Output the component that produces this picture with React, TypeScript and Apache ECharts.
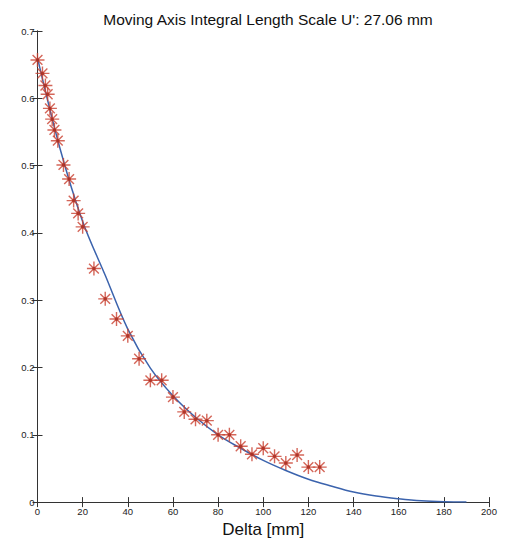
import React, { useEffect, useRef } from "react";
import * as echarts from "echarts";

const titleText = "Moving Axis Integral Length Scale U': 27.06 mm";
const xLabel = "Delta [mm]";

// Measured points (red asterisks)
const pointX = [0, 2.2, 3.5, 4.5, 5.5, 6.5, 7.5, 9, 11.5, 14, 16, 18, 20, 25, 30, 35, 40, 45, 50, 55, 60, 65, 70, 75, 80, 85, 90, 95, 100, 105, 110, 115, 120, 125];
const pointY = [0.657, 0.637, 0.619, 0.606, 0.585, 0.569, 0.553, 0.537, 0.501, 0.48, 0.448, 0.429, 0.409, 0.347, 0.302, 0.272, 0.247, 0.213, 0.181, 0.181, 0.156, 0.134, 0.123, 0.121, 0.1, 0.1, 0.083, 0.071, 0.08, 0.068, 0.058, 0.07, 0.052, 0.052];

// Fitted curve (blue line)
const curveX = [0, 10, 20, 30, 40, 50, 60, 70, 80, 90, 100, 110, 120, 130, 140, 150, 160, 170, 180, 190];
const curveY = [0.66, 0.525, 0.417, 0.337, 0.257, 0.199, 0.158, 0.126, 0.1, 0.08, 0.062, 0.047, 0.034, 0.024, 0.015, 0.009, 0.005, 0.002, 0.0005, 0];

const xTicks = { min: 0, max: 200, interval: 20 };
const yTicks = { min: 0, max: 0.7, interval: 0.1 };

const starPath = "path://M0 5 L10 5 M5 0 L5 10 M1.5 1.5 L8.5 8.5 M1.5 8.5 L8.5 1.5";
const font = "Liberation Sans, Arial, sans-serif";

export default function App() {
  const ref = useRef<HTMLDivElement>(null);
  useEffect(() => {
    if (!ref.current) return;
    const chart = echarts.init(ref.current, null, { renderer: "svg" });
    const axisLine = { show: true, lineStyle: { color: "#333", width: 1 } };
    const tick = { show: true, inside: true, length: 5, lineStyle: { color: "#333" } };
    const label = { color: "#222", fontSize: 9.5, fontFamily: font };
    chart.setOption({
      animation: false,
      backgroundColor: "#fff",
      title: {
        text: titleText,
        left: 263,
        textAlign: "center",
        top: 6,
        textStyle: { fontSize: 15.5, fontWeight: "normal", color: "#111", fontFamily: font },
      },
      grid: { left: 37.5, right: 24, top: 31, bottom: 38 },
      xAxis: [
        {
          type: "value",
          ...xTicks,
          name: xLabel,
          nameLocation: "middle",
          nameGap: 16,
          nameTextStyle: { fontSize: 17, color: "#111", fontFamily: font },
          axisLine,
          axisTick: tick,
          axisLabel: { ...label, margin: 4 },
          splitLine: { show: false },
        },
        {
          type: "value",
          ...xTicks,
          position: "top",
          axisLine,
          axisTick: tick,
          axisLabel: { show: false },
          splitLine: { show: false },
        },
      ],
      yAxis: [
        {
          type: "value",
          ...yTicks,
          axisLine,
          axisTick: tick,
          axisLabel: { ...label, margin: 3, formatter: (v: number) => String(Math.round(v * 10) / 10) },
          splitLine: { show: false },
        },
        {
          type: "value",
          ...yTicks,
          position: "right",
          axisLine,
          axisTick: tick,
          axisLabel: { show: false },
          splitLine: { show: false },
        },
      ],
      series: [
        {
          type: "line",
          data: curveX.map((x, i) => [x, curveY[i]]),
          smooth: 0.35,
          showSymbol: false,
          lineStyle: { color: "#3b63ad", width: 1.5 },
          z: 2,
        },
        {
          type: "scatter",
          data: pointX.map((x, i) => [x, pointY[i]]),
          symbol: starPath,
          symbolSize: 14,
          itemStyle: { color: "rgba(0,0,0,0)", borderColor: "#c9402f", borderWidth: 1.4 },
          z: 3,
        },
        {
          type: "scatter",
          data: pointX.map((x, i) => [x, pointY[i]]),
          symbol: "circle",
          symbolSize: 3.5,
          itemStyle: { color: "#a82a1e" },
          silent: true,
          z: 4,
        },
      ],
    });
    return () => chart.dispose();
  }, []);
  return <div ref={ref} style={{ width: 513, height: 543, margin: "-8px 0 0 -8px" }} />;
}
